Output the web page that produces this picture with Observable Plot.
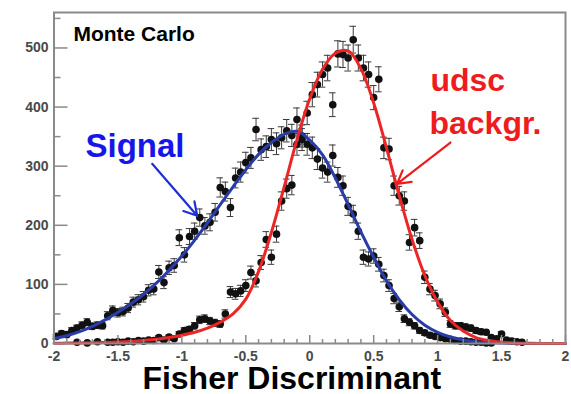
<!DOCTYPE html>
<html>
<head>
<meta charset="utf-8">
<script src="https://cdn.jsdelivr.net/npm/d3@7"></script>
<script src="https://cdn.jsdelivr.net/npm/@observablehq/plot@0.6"></script>
<style>
  body { margin: 0; background: #fff; }
  #chart svg { display: block; font-family: "Liberation Sans", Arial, sans-serif; }
  #chart g[aria-label="x-axis tick label"] text,
  #chart g[aria-label="y-axis tick label"] text { font-weight: bold; }
</style>
</head>
<body>
<div id="chart"></div>
<script>
// Histogram bins: 100 bins of width 0.04 on [-2, 2], given by their centres
const binCenters = d3.range(100).map(i => +(-1.98 + 0.04 * i).toFixed(2));

// Entries per bin, signal sample (null = empty bin)
const signalCounts = [
  12, 17, 15, 22, 26, 31, 36, 29, 31, 30,
  47, 56, 52, 54, 60, 70, 74, 79, 90, 92,
  121, 103, 128, 132, 179, 150, 181, 190, 213, 199,
  205, 222, 264, 257, 230, 280, 290, 306, 314, 362,
  328, 333, 345, 338, 348, 360, 352, 379, 351, 337,
  331, 312, 297, 290, 318, 281, 267, 232, 219, 190,
  146, 143, 148, 134, 115, 98, 76, 62, 42, 36,
  30, 22, 18, 14, 12, 10, 8, 7, 5, 4,
  4, 3, 2, 2, 1, 1, null, null, null, null,
  null, null, null, null, null, null, null, null, null, null
];

// Entries per bin, udsc background sample
const backgroundCounts = [
  null, null, null, null, 2, null, 1, null, 3, null,
  2, 2, 3, 2, 4, 3, 5, 4, 6, 5,
  10, 6, 11, 8, 16, 22, 24, 30, 40, 42,
  38, 35, 33, 50, 87, 84, 89, 98, 120, 106,
  137, 176, 146, 185, 241, 262, 268, 337, 345, 390,
  421, 438, 455, 466, 404, 490, 489, 483, 514, 483,
  466, 455, 416, 447, 331, 329, 267, 250, 241, 171,
  196, 174, 112, 92, 81, 67, 53, 33, 30, 30,
  28, 26, 22, 20, 19, 10, 8, 16, 6, 4,
  3, 2, null, null, null, null, null, null, null, null
];

// Fitted curves, sampled every 0.1 on [-2, 2]
const fitX = d3.range(41).map(i => +(-2 + 0.1 * i).toFixed(1));
const signalFit = [
  8, 13, 20, 29, 40, 53, 67, 83, 102, 124,
  148, 175, 204, 235, 265, 294, 320, 340, 354, 359,
  344, 319, 280, 235, 189, 146, 106, 74, 49, 31,
  19, 11, 6, 3, 1.5, 0.8, 0.4, 0.2, 0.1, 0.05, 0.05
];
const backgroundFit = [
  0.5, 0.7, 1, 1.3, 1.8, 2.5, 3.5, 5, 7, 10,
  14, 19, 26, 36, 50, 75, 122, 188, 265, 345,
  414, 464, 491, 495, 465, 407, 331, 250, 176, 115,
  70, 39, 21, 10, 5, 2, 1, 0.5, 0.2, 0.1, 0.1
];

// Axis ticks
const yMajor = [0, 100, 200, 300, 400, 500];
const yMinor = [50, 150, 250, 350, 450, 550];
const xMajor = [-2, -1.5, -1, -0.5, 0, 0.5, 1, 1.5, 2];
const xMinor = d3.range(41).map(i => +(-2 + 0.1 * i).toFixed(1)).filter(v => !xMajor.includes(v));

// Annotations (anchored in data coordinates)
const notes = [
  {label: "Monte Carlo", x: -1.848, y: 511, color: "#000000", size: 21},
  {label: "Signal", x: -1.754, y: 316, color: "#1616ea", size: 33},
  {label: "udsc", x: 0.944, y: 428, color: "#ee1c1c", size: 32},
  {label: "backgr.", x: 0.936, y: 355, color: "#ee1c1c", size: 32}
];
const pointers = [
  {x1: -1.232, y1: 304, x2: -0.880, y2: 216, color: "#1f2fd8"},
  {x1: 1.100, y1: 340, x2: 0.683, y2: 270, color: "#ee1c1c"}
];

const toRows = counts => binCenters
  .map((x, i) => ({x, n: counts[i]}))
  .filter(d => d.n != null);
const rows = [...toRows(signalCounts), ...toRows(backgroundCounts)];
const fitRows = (vals) => fitX.map((x, i) => ({x, y: vals[i]}));

const W = 571, H = 394;
const mL = 53.5, mR = 6, mT = 12, mB = 51;
const innerW = W - mL - mR, innerH = H - mT - mB;
const capHalf = 0.026;
const axisGray = "#8a8a8a";

const chart = Plot.plot({
  width: W,
  height: H,
  marginLeft: mL,
  marginRight: mR,
  marginTop: mT,
  marginBottom: mB,
  x: {domain: [-2, 2]},
  y: {domain: [0, 560]},
  marks: [
    // error bars with caps
    Plot.ruleX(rows, {x: "x", y1: d => d.n - Math.sqrt(d.n), y2: d => d.n + Math.sqrt(d.n), stroke: "#3a3a3a", strokeWidth: 1}),
    Plot.ruleY(rows, {y: d => d.n + Math.sqrt(d.n), x1: d => d.x - capHalf, x2: d => d.x + capHalf, stroke: "#3a3a3a", strokeWidth: 1}),
    Plot.ruleY(rows, {y: d => d.n - Math.sqrt(d.n), x1: d => d.x - capHalf, x2: d => d.x + capHalf, stroke: "#3a3a3a", strokeWidth: 1}),
    Plot.dot(rows, {x: "x", y: "n", r: 3.8, fill: "#111111", stroke: "none"}),
    // fitted curves
    Plot.line(fitRows(signalFit), {x: "x", y: "y", stroke: "#2a3ca6", strokeWidth: 3, curve: "catmull-rom"}),
    Plot.line(fitRows(backgroundFit), {x: "x", y: "y", stroke: "#ec2626", strokeWidth: 3, curve: "catmull-rom"}),
    // frame and inward ticks
    Plot.frame({stroke: axisGray, strokeWidth: 2}),
    Plot.tickY(yMajor, {y: d => d, insetRight: innerW - 14, stroke: axisGray, strokeWidth: 1.5}),
    Plot.tickY(yMinor, {y: d => d, insetRight: innerW - 7, stroke: axisGray, strokeWidth: 1.5}),
    Plot.tickX(xMajor, {x: d => d, insetTop: innerH - 8, stroke: axisGray, strokeWidth: 1.5}),
    Plot.tickX(xMinor, {x: d => d, insetTop: innerH - 4, stroke: axisGray, strokeWidth: 1.5}),
    Plot.axisY({ticks: yMajor, tickSize: 0, tickPadding: 5.5, fontSize: 14, fontWeight: "bold", color: "#4a4a4a", label: null}),
    Plot.axisX({ticks: xMajor, tickSize: 0, tickPadding: 8, fontSize: 14, fontWeight: "bold", color: "#4a4a4a", label: null, tickFormat: d => String(d)}),
    // annotations
    Plot.arrow(pointers, {x1: "x1", y1: "y1", x2: "x2", y2: "y2", stroke: "color", strokeWidth: 2.2, headLength: 10}),
    Plot.text(notes, {x: "x", y: "y", text: "label", fill: "color", fontSize: "size", fontWeight: "bold", textAnchor: "start", lineAnchor: "bottom"}),
    Plot.text(["Fisher Discriminant"], {frameAnchor: "bottom", dx: -18, dy: 45, lineAnchor: "bottom", fontSize: 32, fontWeight: "bold", fill: "#000"})
  ]
});

document.getElementById("chart").append(chart);
</script>
</body>
</html>
